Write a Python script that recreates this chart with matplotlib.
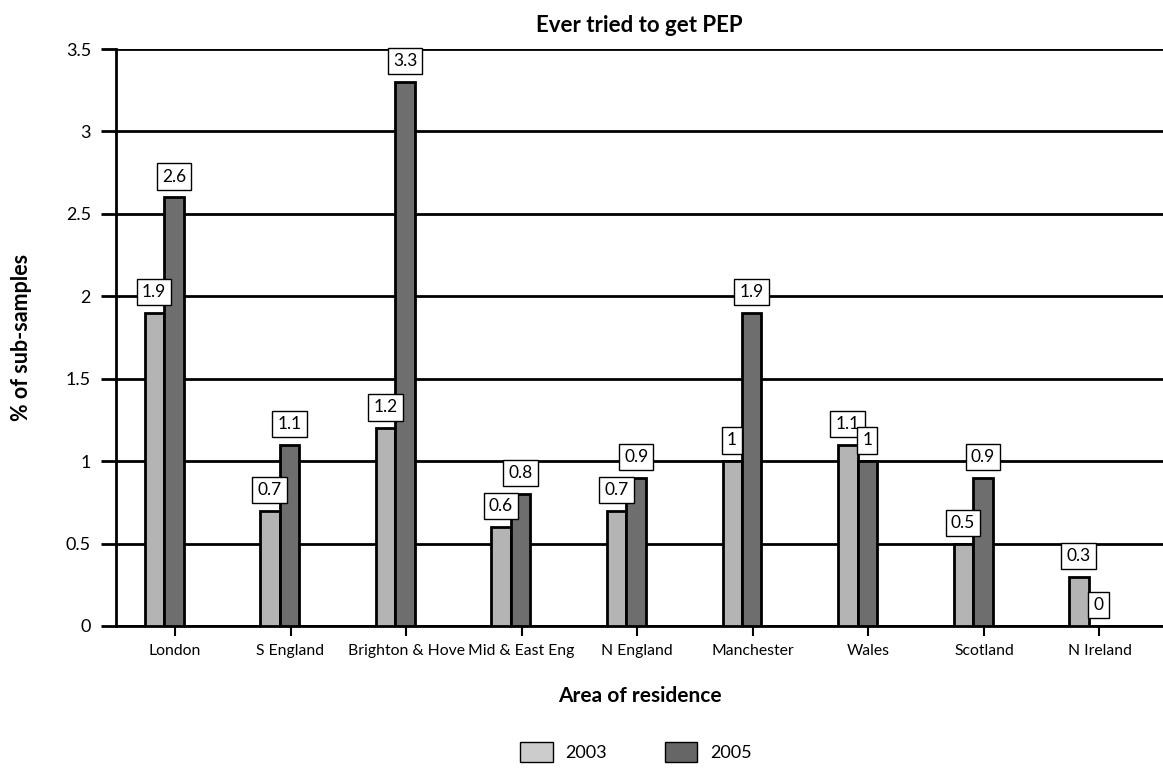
import numpy as np
import matplotlib.pyplot as plt
from matplotlib.patches import Patch

areas = ["London", "S England", "Brighton & Hove", "Mid & East Eng", "N England",
         "Manchester", "Wales", "Scotland", "N Ireland"]
y2003 = [1.9, 0.7, 1.2, 0.6, 0.7, 1.0, 1.1, 0.5, 0.3]
y2005 = [2.6, 1.1, 3.3, 0.8, 0.9, 1.9, 1.0, 0.9, 0.0]
labels2003 = ["1.9", "0.7", "1.2", "0.6", "0.7", "1", "1.1", "0.5", "0.3"]
labels2005 = ["2.6", "1.1", "3.3", "0.8", "0.9", "1.9", "1", "0.9", "0"]
yticks = [0, 0.5, 1, 1.5, 2, 2.5, 3, 3.5]
ytick_labels = ["0", "0.5", "1", "1.5", "2", "2.5", "3", "3.5"]

plt.rcParams['font.family'] = ['Lato', 'DejaVu Sans']

fig = plt.figure(figsize=(11.63, 7.69), dpi=100)
ax = fig.add_axes([116 / 1163, 1 - 626 / 769, 1 - 116 / 1163, (626 - 49) / 769])

x = np.arange(len(areas))
w = 0.169
c03 = "#b4b4b4"
c05 = "#6e6e6e"
ax.bar(x - 0.177, y2003, width=w, color=c03, edgecolor="black", linewidth=2, zorder=3)
ax.bar(x - 0.009, y2005, width=w, color=c05, edgecolor="black", linewidth=2, zorder=3)

# value labels in white boxes above each bar
box = dict(boxstyle="square,pad=0.3", facecolor="white", edgecolor="black", linewidth=1)
for xi, v, s in zip(x, y2003, labels2003):
    ax.annotate(s, (xi - 0.18, v), xytext=(0, 15), textcoords="offset points",
                ha="center", va="center", fontsize=12.5, bbox=box, zorder=5)
for xi, v, s in zip(x, y2005, labels2005):
    ax.annotate(s, (xi - 0.009, v), xytext=(0, 15), textcoords="offset points",
                ha="center", va="center", fontsize=12.5, bbox=box, zorder=5)

ax.set_xlim(-0.51, 8.55)
ax.set_ylim(0, 3.5)
ax.set_yticks(yticks)
ax.set_yticklabels(ytick_labels, fontsize=13)
ax.set_xticks(x)
ax.set_xticklabels(areas, fontsize=11.3)
ax.tick_params(axis="y", length=11, width=2, pad=7)
ax.tick_params(axis="x", length=7, width=1.5, pad=6)
ax.yaxis.grid(True, color="black", linewidth=2, zorder=1)
ax.set_axisbelow(True)
for s in ["top", "right"]:
    ax.spines[s].set_visible(False)
ax.spines["left"].set_linewidth(2)
ax.spines["bottom"].set_linewidth(2)

ax.set_title("Ever tried to get PEP", fontsize=16, fontweight="bold", pad=12)
ax.set_ylabel("% of sub-samples", fontsize=15.5, fontweight="bold", labelpad=24)
ax.set_xlabel("Area of residence", fontsize=15, fontweight="bold", labelpad=20)

handles = [Patch(facecolor="#cccccc", edgecolor="black", label="2003"),
           Patch(facecolor="#666666", edgecolor="black", label="2005")]
fig.legend(handles=handles, loc="center", bbox_to_anchor=(636 / 1163, 1 - 752 / 769),
           ncol=2, frameon=False, fontsize=13, handlelength=1.8, handleheight=1.4,
           columnspacing=3.2, handletextpad=0.7)

fig.savefig("out.png", dpi=100)
